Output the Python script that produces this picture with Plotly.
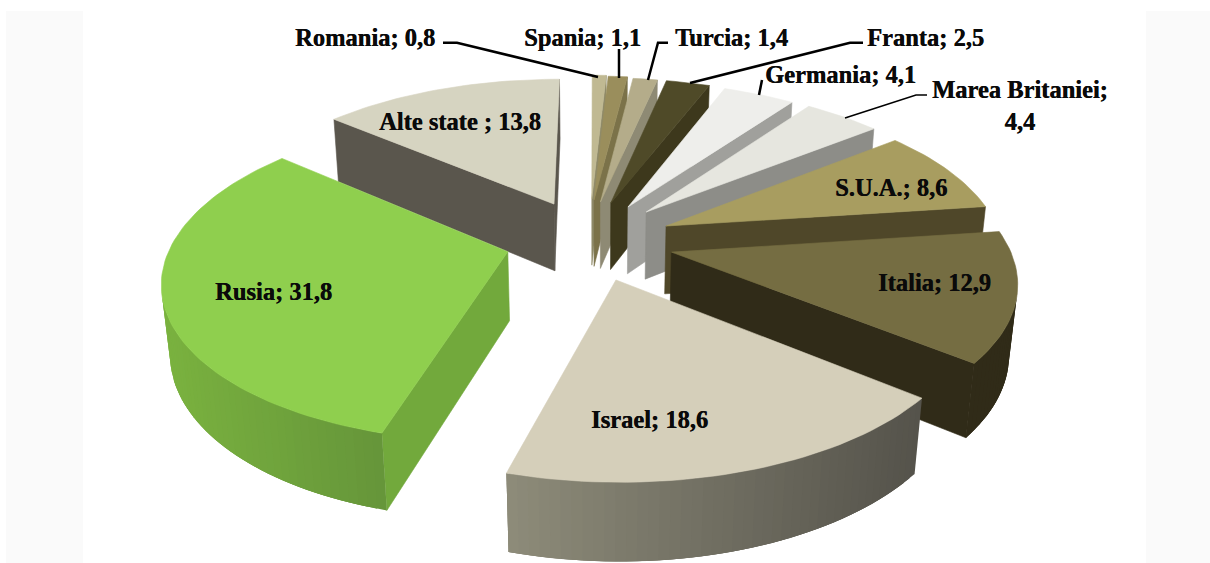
import math
import plotly.graph_objects as go

# ---- data ----
CATEGORIES = ["Romania", "Spania", "Turcia", "Franta", "Germania", "Marea Britaniei",
              "S.U.A.", "Italia", "Israel", "Rusia", "Alte state "]
VALUES = [0.8, 1.1, 1.4, 2.5, 4.1, 4.4, 8.6, 12.9, 18.6, 31.8, 13.8]

# ---- style: explosion of each slice, in pie radii ----
PULL_X = [-0.010, -0.003, 0.017, 0.049, 0.102, 0.157, 0.215, 0.225, 0.060, -0.257, -0.127]
PULL_Y = [0.309, 0.301, 0.287, 0.280, 0.252, 0.217, 0.123, -0.045, -0.215, -0.042, 0.272]
TOP = ["#c0b992", "#9a8e5c", "#b4ac8a", "#4f4a28", "#eeeeeb", "#e6e6df", "#a89d60", "#756d42",
       "#d5cfba", "#8fcf4e", "#d6d4c1"]
FACE = ["#8f8a68", "#7b7249", "#8e8a74", "#3d381c", "#a0a09c", "#8d8d88", "#4f4729", "#302b18",
        "#55534b", "#72a93c", "#5a564d"]
RIM_LEFT = ["#8f8a68", "#7b7249", "#8e8a74", "#3d381c", "#a0a09c", "#8d8d88", "#4f4729", "#302b18",
            "#8e8c7a", "#7ab23f", "#5a564d"]
RIM_RIGHT = ["#8f8a68", "#7b7249", "#8e8a74", "#3d381c", "#a0a09c", "#8d8d88", "#4f4729", "#302b18",
             "#55534b", "#66963a", "#5a564d"]
DRAW_ORDER = [0, 1, 2, 3, 4, 5, 6, 7, 8, 10, 9]

# ---- view ----
CX, CY = 595.0, 245.0
SCALE = 337.0
SIN_E = 0.466
COS_E = 0.885
DIST = 5.49
HEIGHT = 0.235


def project(x, y, z):
    v = y * SIN_E + z * COS_E
    w = y * COS_E - z * SIN_E
    k = DIST / (DIST + w)
    return CX + SCALE * x * k, CY - SCALE * v * k


def area(pts):
    return sum(pts[i][0] * pts[(i + 1) % len(pts)][1] - pts[(i + 1) % len(pts)][0] * pts[i][1]
               for i in range(len(pts)))


def mix(c1, c2, t):
    a = [int(c1[i:i + 2], 16) for i in (1, 3, 5)]
    b = [int(c2[i:i + 2], 16) for i in (1, 3, 5)]
    return "rgb(%d,%d,%d)" % tuple(round(a[i] + (b[i] - a[i]) * t) for i in range(3))


fig = go.Figure()


def poly(pts, color, name, width=0.6):
    xs = [p[0] for p in pts] + [pts[0][0]]
    ys = [p[1] for p in pts] + [pts[0][1]]
    fig.add_trace(go.Scatter(x=xs, y=ys, mode="lines", fill="toself", fillcolor=color,
                             line=dict(color=color, width=width), name=name,
                             hoverinfo="name", showlegend=False))


total = sum(VALUES)
starts = []
acc = 0.0
for val in VALUES:
    starts.append(acc)
    acc += val

for i in DRAW_ORDER:
    a0 = math.radians(starts[i] / total * 360)
    a1 = math.radians((starts[i] + VALUES[i]) / total * 360)
    steps = max(3, int(math.degrees(a1 - a0) / 1.5))
    angles = [a0 + (a1 - a0) * j / steps for j in range(steps + 1)]
    px, py = PULL_X[i], PULL_Y[i]
    top_rim = [project(px + math.sin(a), py + math.cos(a), 0) for a in angles]
    bot_rim = [project(px + math.sin(a), py + math.cos(a), -HEIGHT) for a in angles]
    apex_t = project(px, py, 0)
    apex_b = project(px, py, -HEIGHT)
    name = CATEGORIES[i].strip()

    start_face = [apex_t, top_rim[0], bot_rim[0], apex_b]
    end_face = [top_rim[-1], apex_t, apex_b, bot_rim[-1]]
    for f in (start_face, end_face):
        if area(f) < 0:
            poly(f, FACE[i], name)

    vis = [j for j in range(steps)
           if area([top_rim[j], top_rim[j + 1], bot_rim[j + 1], bot_rim[j]]) < 0]
    if vis:
        xs_vis = [top_rim[j][0] for j in vis] + [top_rim[vis[-1] + 1][0]]
        xmin, xmax = min(xs_vis), max(xs_vis)
        # strips overlap the next one so no seams appear between them
        for j in vis:
            e = min(j + 3, vis[-1] + 1)
            poly(top_rim[j:e + 1] + bot_rim[j:e + 1][::-1],
                 mix(RIM_LEFT[i], RIM_RIGHT[i], (top_rim[j][0] - xmin) / max(xmax - xmin, 1)),
                 name, width=0)

    poly([apex_t] + top_rim, TOP[i], name)


def label(i):
    return CATEGORIES[i] + "; " + f"{VALUES[i]:.1f}".replace(".", ",")


LABEL_POS = [(365, 37), (582, 37), (731, 37), (925, 37), (840, 74), (1020, 105),
             (891, 187), (934, 282), (649, 419), (273, 291), (460, 121)]
for i, (lx, ly) in enumerate(LABEL_POS):
    txt = label(i)
    if CATEGORIES[i] == "Marea Britaniei":
        txt = txt.replace("; ", ";<br>")
    fig.add_annotation(x=lx, y=ly, xref="x", yref="y", text=txt, showarrow=False,
                       font=dict(family="Liberation Serif", size=24.5, color="#0a0a0a", weight="bold",
                                 shadow="0.4px 0 0 #0a0a0a"))

LEADERS = [
    ([443, 457, 598], [42.7, 42.7, 77], 2.5),
    ([619, 619], [49, 78], 2.5),
    ([668, 658, 648], [42.7, 42.7, 80], 2.5),
    ([863, 850, 690], [42.7, 42.7, 83], 2.5),
    ([762, 759], [80, 95], 2.5),
    ([927, 916, 845], [95, 95, 118], 1.5),
]
for lx, ly, lw in LEADERS:
    fig.add_trace(go.Scatter(x=lx, y=ly, mode="lines", line=dict(color="#000000", width=lw),
                             hoverinfo="skip", showlegend=False))

fig.update_layout(
    width=1210, height=563, margin=dict(l=0, r=0, t=0, b=0),
    paper_bgcolor="#ffffff", plot_bgcolor="#ffffff", showlegend=False,
    xaxis=dict(range=[0, 1210], visible=False, fixedrange=True),
    yaxis=dict(range=[563, 0], visible=False, fixedrange=True),
    shapes=[
        dict(type="rect", xref="x", yref="y", x0=6, x1=83, y0=11, y1=563, layer="below",
             line=dict(width=0), fillcolor="#fafafa"),
        dict(type="rect", xref="x", yref="y", x0=1146, x1=1210, y0=11, y1=563, layer="below",
             line=dict(width=0), fillcolor="#fafafa"),
    ],
)
fig.write_html("out.html", config=dict(displayModeBar=False),
               post_script="document.body.style.margin='0';document.body.style.overflow='hidden';")
